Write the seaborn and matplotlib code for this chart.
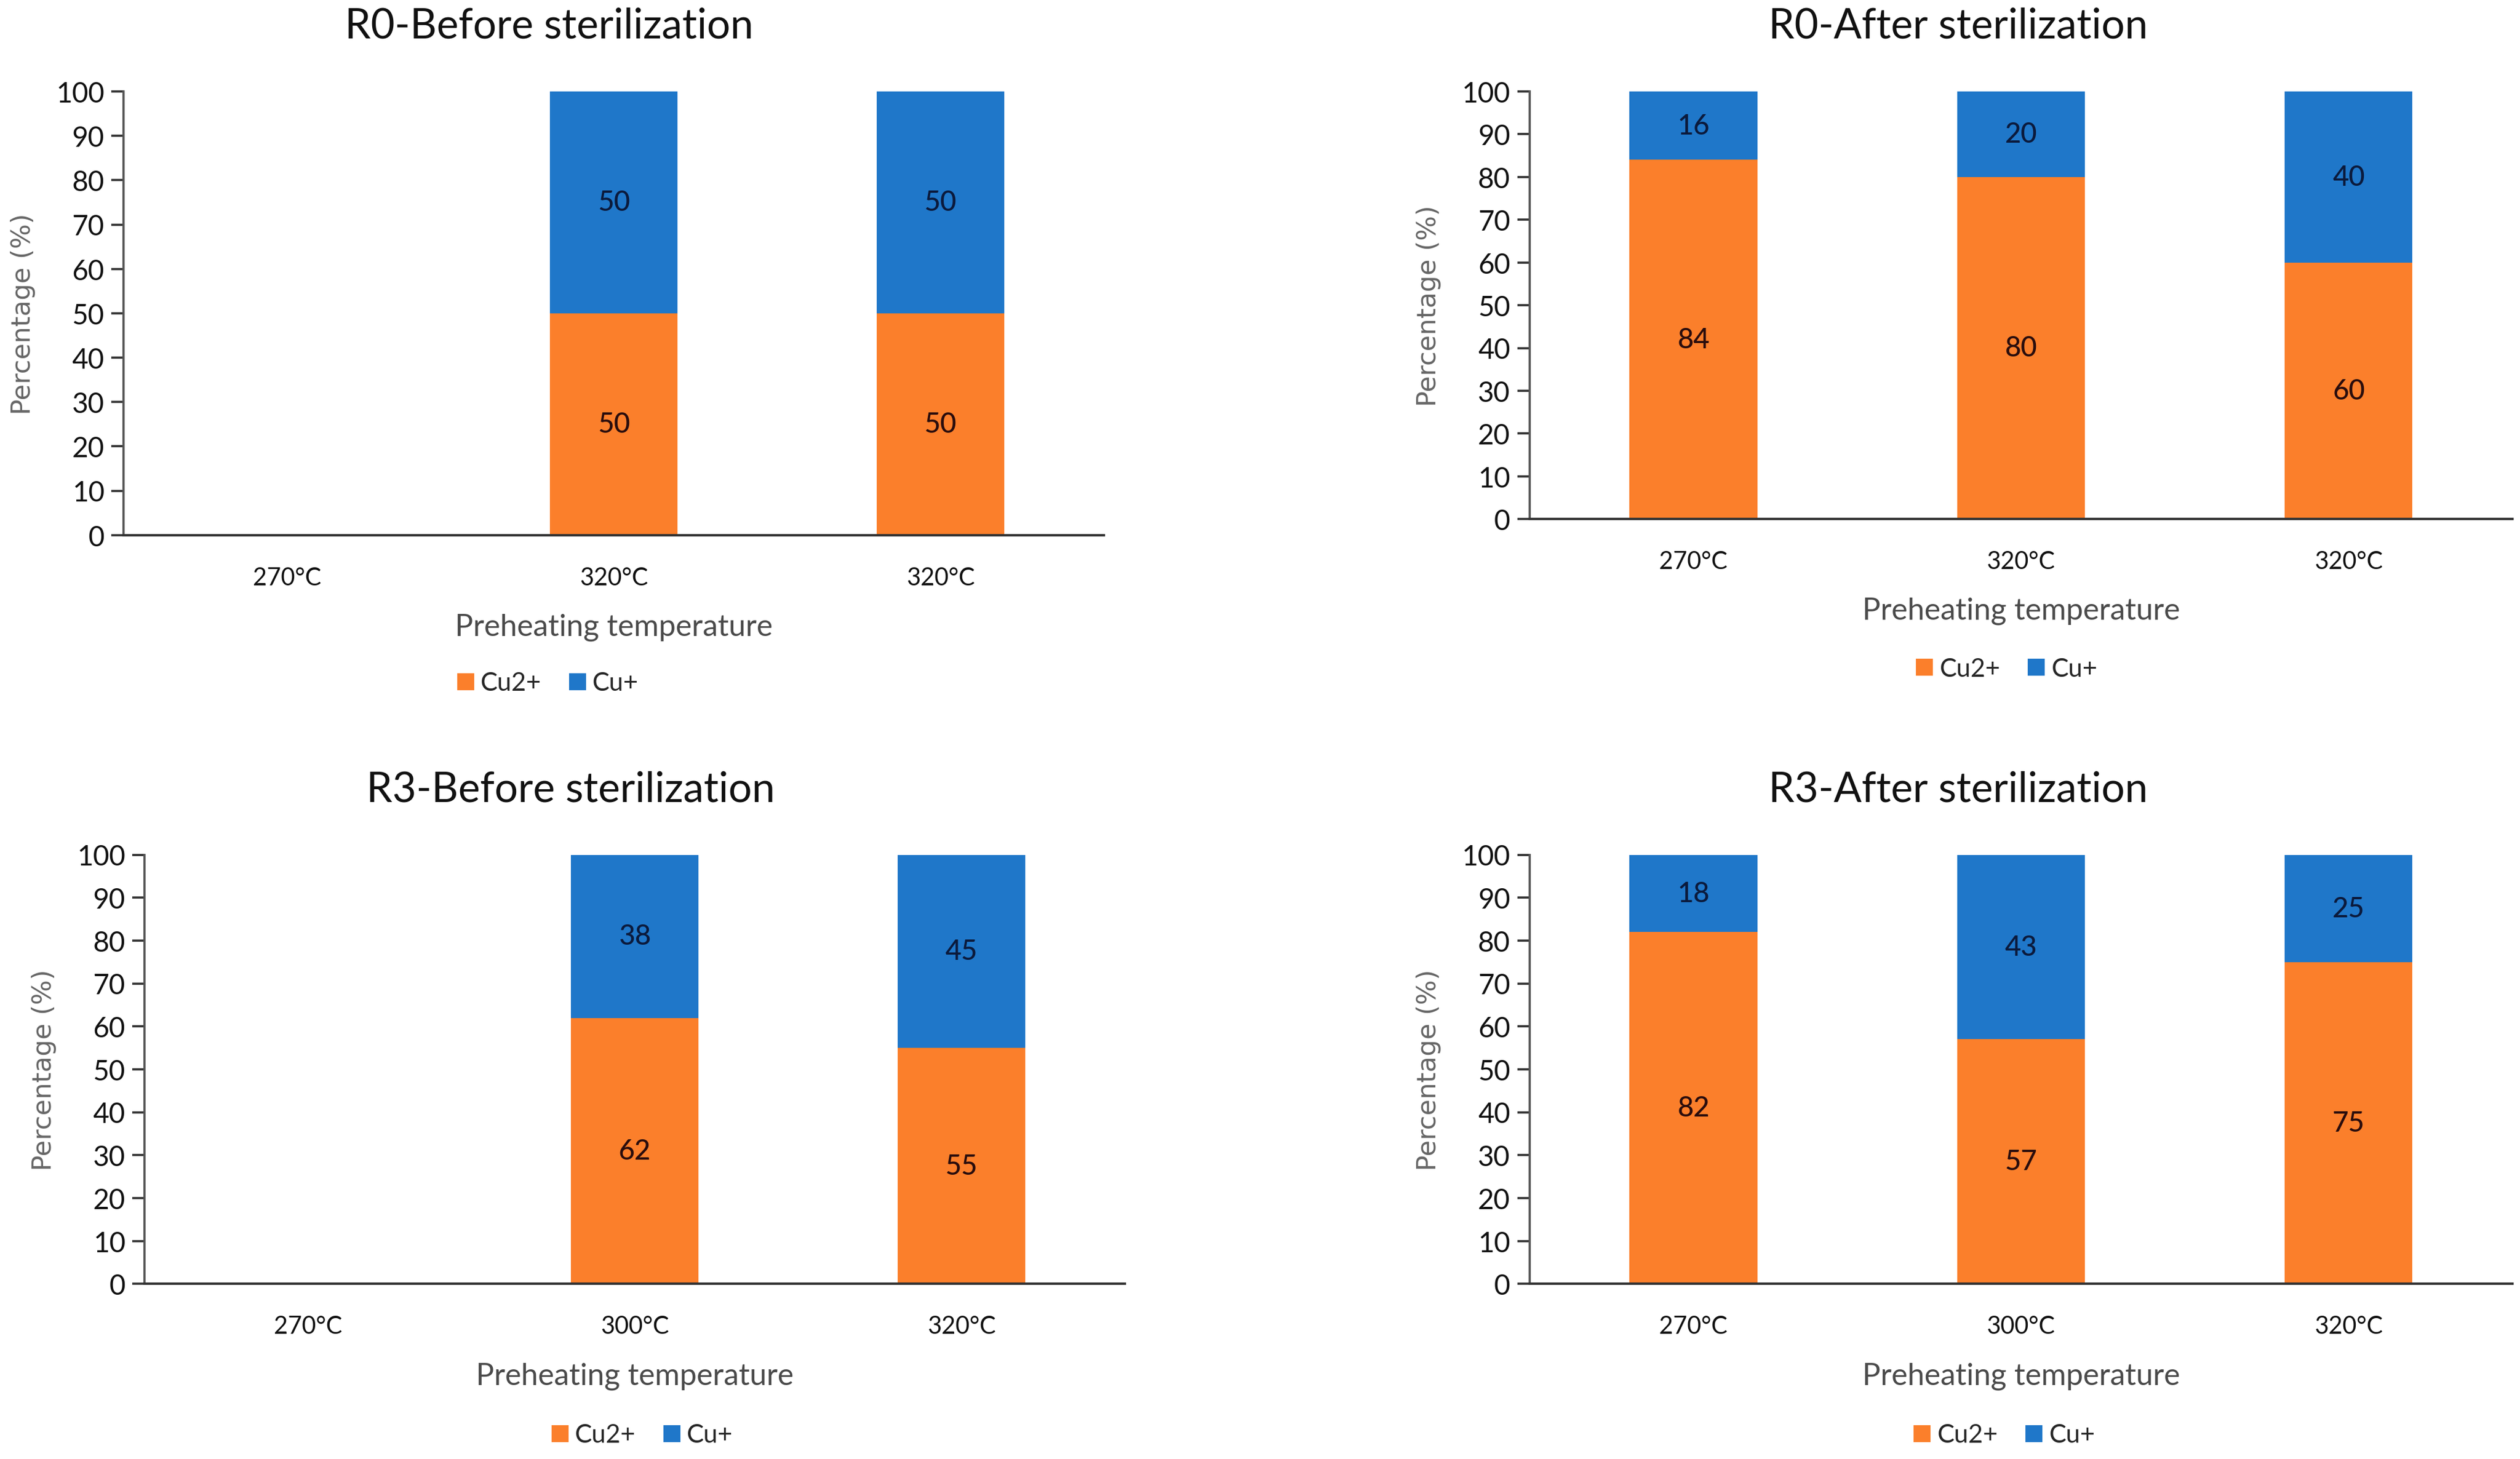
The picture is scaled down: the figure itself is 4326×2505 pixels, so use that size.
import numpy as np
import pandas as pd
import matplotlib
matplotlib.use("Agg")
import matplotlib.pyplot as plt
import seaborn as sns
from matplotlib.lines import Line2D

sns.set_theme(style="white")
plt.rcParams["font.family"] = ["Lato", "DejaVu Sans"]

# data
titles = ["R0-Before sterilization", "R0-After sterilization",
          "R3-Before sterilization", "R3-After sterilization"]
temps_r0_before = ["270°C", "320°C", "320°C"]
temps_r0_after = ["270°C", "320°C", "320°C"]
temps_r3_before = ["270°C", "300°C", "320°C"]
temps_r3_after = ["270°C", "300°C", "320°C"]

cu2_r0_before = [np.nan, 50, 50]
cu1_r0_before = [np.nan, 50, 50]
cu2_r0_after = [84, 80, 60]
cu1_r0_after = [16, 20, 40]
cu2_r3_before = [np.nan, 62, 55]
cu1_r3_before = [np.nan, 38, 45]
cu2_r3_after = [82, 57, 75]
cu1_r3_after = [18, 43, 25]

ORANGE = "#FB7F2B"
BLUE = "#1F77C9"

panels = [
    (temps_r0_before, cu2_r0_before, cu1_r0_before),
    (temps_r0_after, cu2_r0_after, cu1_r0_after),
    (temps_r3_before, cu2_r3_before, cu1_r3_before),
    (temps_r3_after, cu2_r3_after, cu1_r3_after),
]

# layout (figure fractions)
rects = [
    [0.0491, 0.633, 0.389, 0.304],
    [0.607, 0.644, 0.390, 0.293],
    [0.0574, 0.120, 0.389, 0.294],
    [0.607, 0.120, 0.390, 0.294],
]
title_xy = [(0.218, 0.982), (0.777, 0.982), (0.2264, 0.459), (0.777, 0.459)]
legend_x = [0.217, 0.796, 0.2545, 0.795]
legend_y = [-0.333, -0.35, -0.352, -0.352]

fig = plt.figure(figsize=(14.42, 8.353), dpi=300)

for i, (temps, cu2, cu1) in enumerate(panels):
    ax = fig.add_axes(rects[i])
    df = pd.DataFrame({
        "pos": [0, 1, 2],
        "Cu2+": cu2,
        "Cu+": cu1,
    })
    df["total"] = df["Cu2+"] + df["Cu+"]

    sns.barplot(data=df, x="pos", y="total", order=[0, 1, 2], color=BLUE,
                width=0.39, saturation=1, ax=ax, errorbar=None, linewidth=0)
    sns.barplot(data=df, x="pos", y="Cu2+", order=[0, 1, 2], color=ORANGE,
                width=0.39, saturation=1, ax=ax, errorbar=None, linewidth=0)

    for j, row in df.iterrows():
        if np.isnan(row["Cu2+"]):
            continue
        ax.text(j, row["Cu2+"] / 2, f"{row['Cu2+']:.0f}", ha="center", va="center",
                fontsize=11.5, fontweight="medium", color="#2A0D0D")
        ax.text(j, row["Cu2+"] + row["Cu+"] / 2, f"{row['Cu+']:.0f}", ha="center",
                va="center", fontsize=11.5, fontweight="medium", color="#0B1A3C")

    ax.set_xlim(-0.5, 2.5)
    ax.set_ylim(0, 100)
    ax.set_yticks(range(0, 101, 10))
    ax.set_xticks([0, 1, 2])
    ax.set_xticklabels(temps, fontsize=10, color="#111111")
    ax.tick_params(axis="x", length=0, pad=13)
    ax.tick_params(axis="y", direction="out", length=5, width=0.9,
                   color="#333333", pad=3, labelsize=11.5, labelcolor="#111111", left=True)

    sns.despine(ax=ax, top=True, right=True)
    ax.spines["left"].set_color("#555555")
    ax.spines["left"].set_linewidth(0.9)
    ax.spines["bottom"].set_color("#333333")
    ax.spines["bottom"].set_linewidth(1.0)

    ax.set_xlabel("Preheating temperature", fontsize=12.5, color="#4A4A4A", labelpad=10)
    ax.set_ylabel("Percentage (%)", fontsize=10.8, color="#666666",
                  family=["DejaVu Sans"])
    ax.yaxis.set_label_coords(-0.09, 0.5)

    fig.text(title_xy[i][0], title_xy[i][1], titles[i], ha="center", va="center",
             fontsize=17, color="#111111")

    handles = [
        Line2D([0], [0], marker="s", linestyle="none", markersize=6,
               markerfacecolor=ORANGE, markeredgecolor=ORANGE, label="Cu2+"),
        Line2D([0], [0], marker="s", linestyle="none", markersize=6,
               markerfacecolor=BLUE, markeredgecolor=BLUE, label="Cu+"),
    ]
    x0 = rects[i][0]
    w = rects[i][2]
    lx = (legend_x[i] - x0) / w
    ax.legend(handles=handles, loc="center", bbox_to_anchor=(lx, legend_y[i]),
              ncol=2, frameon=False, fontsize=10.5, handletextpad=0.2,
              columnspacing=1.0, handlelength=0.8)

fig.savefig("out.png", dpi=300)
